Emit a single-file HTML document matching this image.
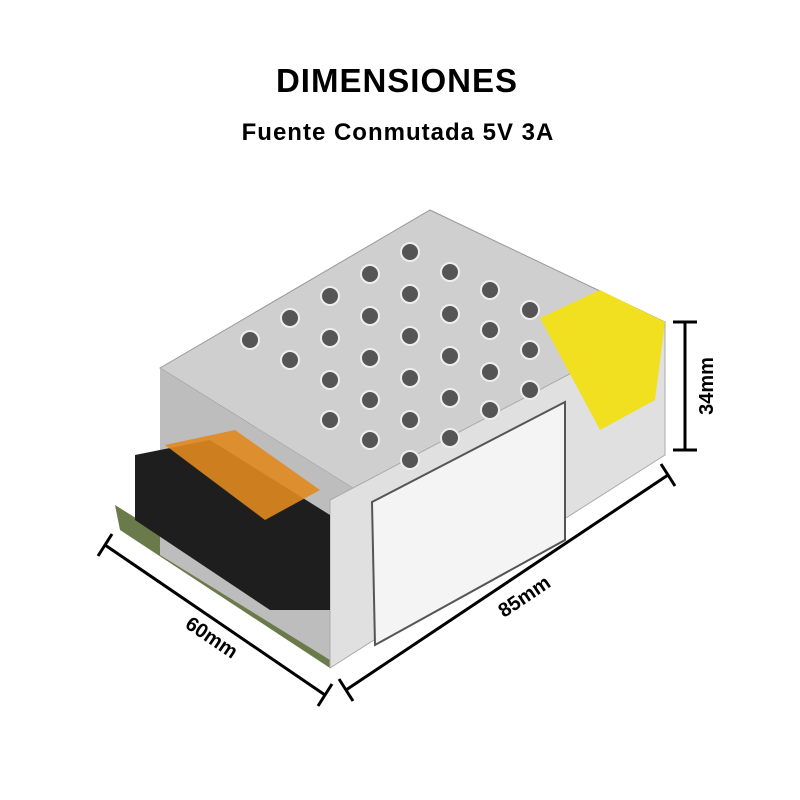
<!DOCTYPE html>
<html><head><meta charset="utf-8"><style>
html,body{margin:0;padding:0;background:#fff;}
svg{display:block}
text{font-family:"Liberation Sans",sans-serif;font-weight:bold;fill:#000}
</style></head><body>
<svg width="800" height="800" viewBox="0 0 800 800" xmlns="http://www.w3.org/2000/svg">
<rect width="800" height="800" fill="#fff"/>
<text x="397" y="92" font-size="33" letter-spacing="1" text-anchor="middle">DIMENSIONES</text>
<text x="398" y="140" font-size="24" letter-spacing="1" text-anchor="middle">Fuente Conmutada 5V 3A</text>

<!-- PCB base -->
<polygon points="115,505 330,640 330,668 120,530" fill="#6b7a4a"/>
<!-- top face -->
<polygon points="160,368 430,210 665,322 372,500" fill="#cfcfcf" stroke="#999"/>
<!-- left front face -->
<polygon points="160,368 372,500 330,510 330,660 160,555" fill="#bdbdbd"/>
<!-- right face -->
<polygon points="330,500 600,358 665,322 665,455 330,668" fill="#e0e0e0" stroke="#aaa"/>
<!-- label -->
<polygon points="372,502 565,402 565,540 375,645" fill="#f4f4f4" stroke="#555" stroke-width="2"/>
<!-- yellow warranty sticker -->
<polygon points="540,318 600,290 665,322 655,400 600,430" fill="#f0e020"/>
<!-- holes -->
<g fill="#555" stroke="#eee" stroke-width="2">
<circle cx="250" cy="340" r="9"/><circle cx="290" cy="318" r="9"/><circle cx="330" cy="296" r="9"/><circle cx="370" cy="274" r="9"/><circle cx="410" cy="252" r="9"/>
<circle cx="290" cy="360" r="9"/><circle cx="330" cy="338" r="9"/><circle cx="370" cy="316" r="9"/><circle cx="410" cy="294" r="9"/><circle cx="450" cy="272" r="9"/><circle cx="490" cy="290" r="9"/>
<circle cx="330" cy="380" r="9"/><circle cx="370" cy="358" r="9"/><circle cx="410" cy="336" r="9"/><circle cx="450" cy="314" r="9"/><circle cx="490" cy="330" r="9"/><circle cx="530" cy="310" r="9"/>
<circle cx="370" cy="400" r="9"/><circle cx="410" cy="378" r="9"/><circle cx="450" cy="356" r="9"/><circle cx="490" cy="372" r="9"/><circle cx="530" cy="350" r="9"/>
<circle cx="410" cy="420" r="9"/><circle cx="450" cy="398" r="9"/><circle cx="490" cy="410" r="9"/><circle cx="530" cy="390" r="9"/>
<circle cx="370" cy="440" r="9"/><circle cx="410" cy="460" r="9"/><circle cx="450" cy="438" r="9"/><circle cx="330" cy="420" r="9"/>
</g>
<!-- terminal block -->
<polygon points="135,455 210,440 330,515 330,610 270,610 135,520" fill="#1e1e1e"/>
<polygon points="165,445 235,430 320,490 265,520" fill="#e08a20" opacity="0.9"/>

<!-- dimension lines -->
<g stroke="#000" stroke-width="3" fill="none">
<line x1="685" y1="322" x2="685" y2="450"/>
<line x1="673" y1="322" x2="697" y2="322"/>
<line x1="673" y1="450" x2="697" y2="450"/>
<line x1="346" y1="690" x2="668" y2="475"/>
<line x1="339" y1="679" x2="353" y2="701"/>
<line x1="661" y1="464" x2="675" y2="486"/>
<line x1="105" y1="545" x2="325" y2="695"/>
<line x1="112" y1="534" x2="98" y2="556"/>
<line x1="332" y1="684" x2="318" y2="706"/>
</g>
<text x="0" y="0" font-size="20" text-anchor="middle" transform="translate(713,386) rotate(-90)">34mm</text>
<text x="0" y="0" font-size="20" text-anchor="middle" transform="translate(528,602) rotate(-34)">85mm</text>
<text x="0" y="0" font-size="20" text-anchor="middle" transform="translate(208,643) rotate(34)">60mm</text>
</svg>
</body></html>
